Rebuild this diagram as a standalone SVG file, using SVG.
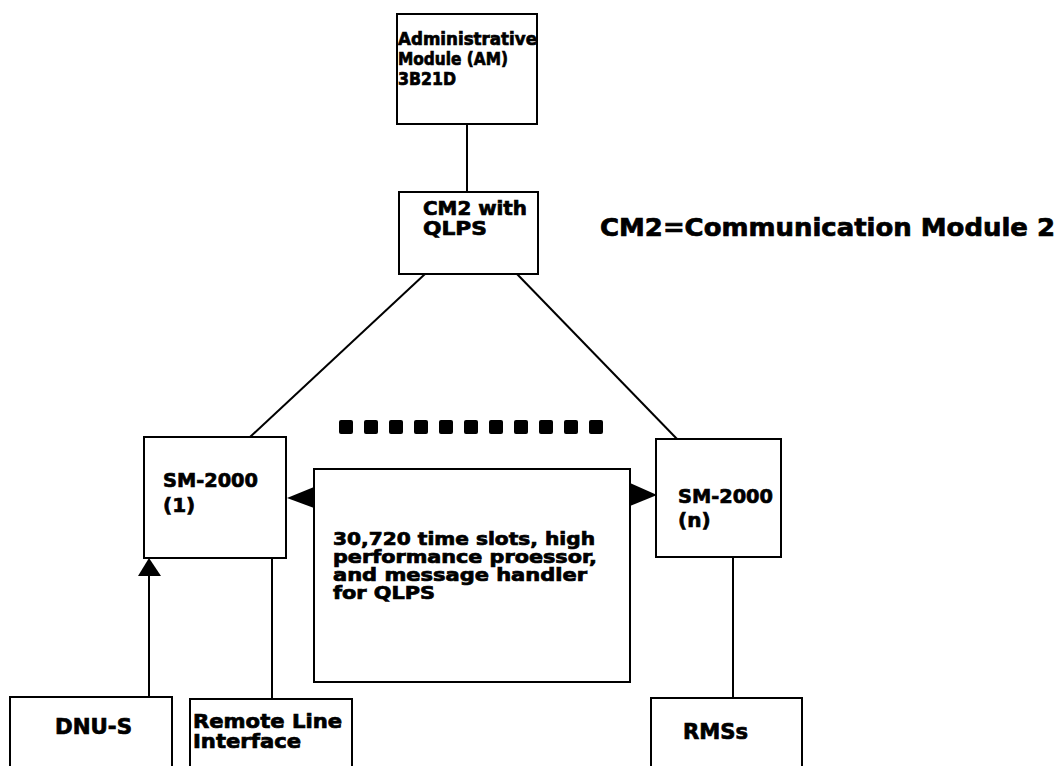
<svg xmlns="http://www.w3.org/2000/svg" width="1058" height="766" viewBox="0 0 1058 766">
<style>
.box{fill:#fff;stroke:#000;stroke-width:2}
.ln{stroke:#000;stroke-width:2;fill:none}
.t{font-family:"DejaVu Sans","Liberation Sans",sans-serif;font-weight:bold;fill:#000;stroke:#000;stroke-width:0.7}
.dot{fill:#000}
.head{fill:#000}
</style>
<rect width="1058" height="766" fill="#fff"/>
<g id="connectors">
<line class="ln" x1="467" y1="124" x2="467" y2="192"/>
<line class="ln" x1="425" y1="274" x2="250" y2="437"/>
<line class="ln" x1="517" y1="274" x2="677" y2="439"/>
<path class="head" d="M314,487 L314,508 L287,498 Z"/>
<path class="head" d="M630,483 L630,506 L657,495 Z"/>
<line class="ln" x1="149" y1="576" x2="149" y2="697"/>
<path class="head" d="M138,576 L161,576 L149,558 Z"/>
<line class="ln" x1="272" y1="558" x2="272" y2="699"/>
<line class="ln" x1="733" y1="557" x2="733" y2="698"/>
</g>
<g id="am">
<rect class="box" x="397" y="14" width="140" height="110"/>
<text class="t" font-size="17" x="398" y="45" textLength="139" lengthAdjust="spacingAndGlyphs">Administrative</text>
<text class="t" font-size="17" x="398" y="65" textLength="110" lengthAdjust="spacingAndGlyphs">Module (AM)</text>
<text class="t" font-size="17" x="398" y="85" textLength="58" lengthAdjust="spacingAndGlyphs">3B21D</text>
</g>
<g id="cm2">
<rect class="box" x="399" y="192" width="139" height="82"/>
<text class="t" font-size="19" x="423" y="215" textLength="104" lengthAdjust="spacingAndGlyphs">CM2 with</text>
<text class="t" font-size="19" x="423" y="235" textLength="64" lengthAdjust="spacingAndGlyphs">QLPS</text>
</g>
<g id="legend">
<text class="t" font-size="24" x="600" y="236" textLength="455" lengthAdjust="spacingAndGlyphs">CM2=Communication Module 2</text>
</g>
<g id="dots">
<rect class="dot" x="339" y="420" width="14" height="14" rx="2"/>
<rect class="dot" x="364" y="420" width="14" height="14" rx="2"/>
<rect class="dot" x="389" y="420" width="14" height="14" rx="2"/>
<rect class="dot" x="414" y="420" width="14" height="14" rx="2"/>
<rect class="dot" x="439" y="420" width="14" height="14" rx="2"/>
<rect class="dot" x="464" y="420" width="14" height="14" rx="2"/>
<rect class="dot" x="489" y="420" width="14" height="14" rx="2"/>
<rect class="dot" x="514" y="420" width="14" height="14" rx="2"/>
<rect class="dot" x="539" y="420" width="14" height="14" rx="2"/>
<rect class="dot" x="564" y="420" width="14" height="14" rx="2"/>
<rect class="dot" x="589" y="420" width="14" height="14" rx="2"/>
</g>
<g id="sm1">
<rect class="box" x="144" y="437" width="142" height="121"/>
<text class="t" font-size="20" x="163" y="487" textLength="95" lengthAdjust="spacingAndGlyphs">SM-2000</text>
<text class="t" font-size="20" x="163" y="512">(1)</text>
</g>
<g id="smn">
<rect class="box" x="656" y="439" width="125" height="118"/>
<text class="t" font-size="20" x="678" y="503" textLength="95" lengthAdjust="spacingAndGlyphs">SM-2000</text>
<text class="t" font-size="20" x="678" y="527">(n)</text>
</g>
<g id="info">
<rect class="box" x="314" y="469" width="316" height="213"/>
<text class="t" font-size="17" x="333" y="545" textLength="262" lengthAdjust="spacingAndGlyphs">30,720 time slots, high</text>
<text class="t" font-size="17" x="333" y="563" textLength="264" lengthAdjust="spacingAndGlyphs">performance proessor,</text>
<text class="t" font-size="17" x="333" y="581" textLength="254" lengthAdjust="spacingAndGlyphs">and message handler</text>
<text class="t" font-size="17" x="333" y="599" textLength="102" lengthAdjust="spacingAndGlyphs">for QLPS</text>
</g>
<g id="dnus">
<rect class="box" x="10" y="697" width="162" height="80"/>
<text class="t" font-size="21" x="55" y="734" textLength="77" lengthAdjust="spacingAndGlyphs">DNU-S</text>
</g>
<g id="rli">
<rect class="box" x="190" y="699" width="162" height="80"/>
<text class="t" font-size="19" x="193" y="728" textLength="149" lengthAdjust="spacingAndGlyphs">Remote Line</text>
<text class="t" font-size="19" x="193" y="748" textLength="108" lengthAdjust="spacingAndGlyphs">Interface</text>
</g>
<g id="rms">
<rect class="box" x="651" y="698" width="151" height="80"/>
<text class="t" font-size="21" x="683" y="739" textLength="65" lengthAdjust="spacingAndGlyphs">RMSs</text>
</g>
</svg>
